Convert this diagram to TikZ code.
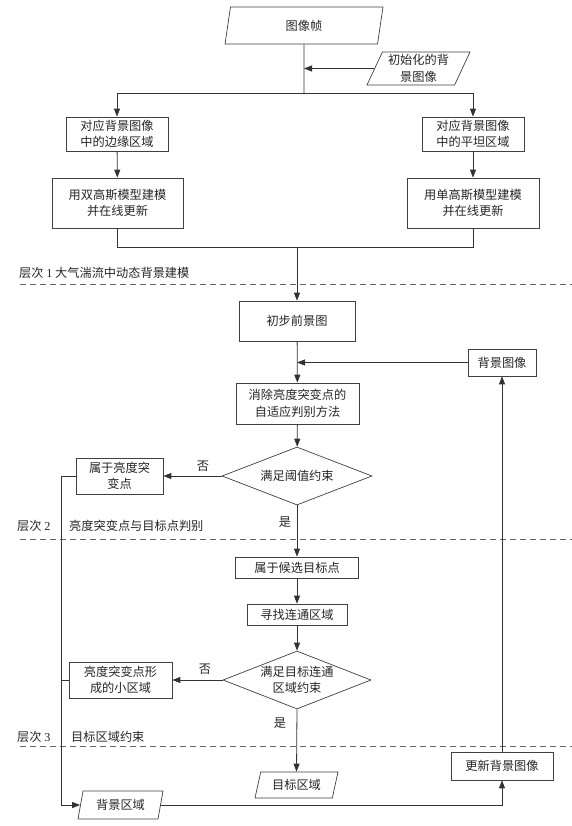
\documentclass[tikz,border=0pt]{standalone}
\usepackage{fontspec}
\setmainfont{Noto Sans CJK SC}
\newfontfamily\latfont{Liberation Serif}
\usetikzlibrary{arrows.meta,shapes.geometric}
\begin{document}
\begin{tikzpicture}[x=1pt,y=-1pt,
  ln/.style={draw=black!80, line width=0.8pt},
  arr/.style={ln, -{Triangle[length=8pt,width=6pt]}},
  dsh/.style={draw=black!60, line width=0.8pt, dash pattern=on 6pt off 4pt},
  txt/.style={font=\fontsize{12.2}{16.5}\selectfont, text=black!85},
  box/.style={txt, draw=black!75, line width=0.7pt, rectangle, align=center, inner sep=0pt},
  io/.style={txt, draw=black!75, line width=0.7pt, trapezium, trapezium stretches body, align=center, inner sep=0pt},
  dec/.style={txt, draw=black!75, line width=0.7pt, diamond, aspect=2.55, align=center, inner sep=0pt},
  lbl/.style={txt, inner sep=0pt, anchor=west}]
\path[use as bounding box, fill=white] (0,0) rectangle (572,826);

% top
\node[io, minimum width=158, minimum height=37, trapezium left angle=64, trapezium right angle=116] (img) at (304,25.5) {图像帧};
\node[io, minimum width=103, minimum height=33, trapezium left angle=61, trapezium right angle=119] (init) at (418.5,68.5) {初始化的背\\景图像};
\coordinate (j1) at (304,93);
\coordinate (jl) at (117,93);
\coordinate (jr) at (473,93);

\node[box, minimum width=102, minimum height=34] (edge) at (117,134) {对应背景图像\\中的边缘区域};
\node[box, minimum width=102, minimum height=34] (flat) at (473,134) {对应背景图像\\中的平坦区域};
\node[box, minimum width=131, minimum height=50] (dg) at (117.5,203) {用双高斯模型建模\\并在线更新};
\node[box, minimum width=132, minimum height=50] (sg) at (473,203) {用单高斯模型建模\\并在线更新};
\coordinate (k) at (297,247);

\node[box, minimum width=116, minimum height=40] (pre) at (297,321) {初步前景图};
\node[box, minimum width=68, minimum height=27] (bg) at (502,362.5) {背景图像};
\node[box, minimum width=123, minimum height=41] (elim) at (297.5,403.5) {消除亮度突变点的\\自适应判别方法};
\node[dec, minimum width=150, minimum height=58] (d1) at (297,476) {满足阈值约束};
\node[box, minimum width=87, minimum height=36] (bri) at (119.5,476) {属于亮度突\\变点};
\node[txt, inner sep=0pt] (no1) at (203,466) {否};
\node[txt, inner sep=0pt] (yes1) at (285,522) {是};

\node[box, minimum width=123, minimum height=21] (cand) at (297,567.5) {属于候选目标点};
\node[box, minimum width=100, minimum height=21] (find) at (297,614.5) {寻找连通区域};
\node[dec, minimum width=148, minimum height=58] (d2) at (297,680) {满足目标连通\\区域约束};
\node[box, minimum width=103, minimum height=36] (small) at (120.5,680) {亮度突变点形\\成的小区域};
\node[txt, inner sep=0pt] (no2) at (205,669) {否};
\node[txt, inner sep=0pt] (yes2) at (280,723) {是};

\node[io, minimum width=83, minimum height=26, trapezium left angle=63, trapezium right angle=117] (tgt) at (296.5,785) {目标区域};
\node[box, minimum width=102, minimum height=28] (upd) at (502,766) {更新背景图像};
\node[io, minimum width=85, minimum height=28, trapezium left angle=66, trapezium right angle=114] (bgr) at (120.5,805) {背景区域};
\coordinate (L) at (61,805);

% layer labels and dashed separators
\node[lbl] (l1) at (19,273) {层次 {\latfont 1} 大气湍流中动态背景建模};
\node[lbl] (l2a) at (17,526) {层次 {\latfont 2}};
\node[lbl] (l2b) at (69,526) {亮度突变点与目标点判别};
\node[lbl] (l3a) at (17,737) {层次 {\latfont 3}};
\node[lbl] (l3b) at (71,737) {目标区域约束};
\draw[dsh] (20,284) -- (572,284);
\draw[dsh] (20,539) -- (572,539);
\draw[dsh] (20,746) -- (572,746);

% connectors
\draw[ln] (img.south) -- (j1);
\draw[arr] (init.left side) -- (init.left side -| j1);
\draw[ln] (jl) -- (jr);
\draw[arr] (jl) -- (edge.north);
\draw[arr] (jr) -- (flat.north);
\draw[arr] (edge) -- (dg);
\draw[arr] (flat) -- (sg);
\draw[ln] (dg.south) -- (dg.south |- k) -- (sg.south |- k) -- (sg.south);
\draw[arr] (k) -- (pre.north);
\draw[arr] (pre) -- (elim);
\draw[arr] (bg.west) -- (bg.west -| pre.south);
\draw[arr] (elim) -- (d1);
\draw[arr] (d1.west) -- (bri.east);
\draw[arr] (d1.south) -- (cand.north);
\draw[arr] (cand) -- (find);
\draw[arr] (find) -- (d2);
\draw[arr] (d2.west) -- (small.east);
\draw[arr] (d2.south) -- (tgt.north);
\draw[arr] (bri.west) -- (bri.west -| L) -- (L) -- (bgr.left side);
\draw[ln] (small.west) -- (small.west -| L);
\draw[arr] (bgr.right side) -- (bgr.right side -| upd.south) -- (upd.south);
\draw[arr] (upd.north) -- (bg.south);
\end{tikzpicture}
\end{document}
